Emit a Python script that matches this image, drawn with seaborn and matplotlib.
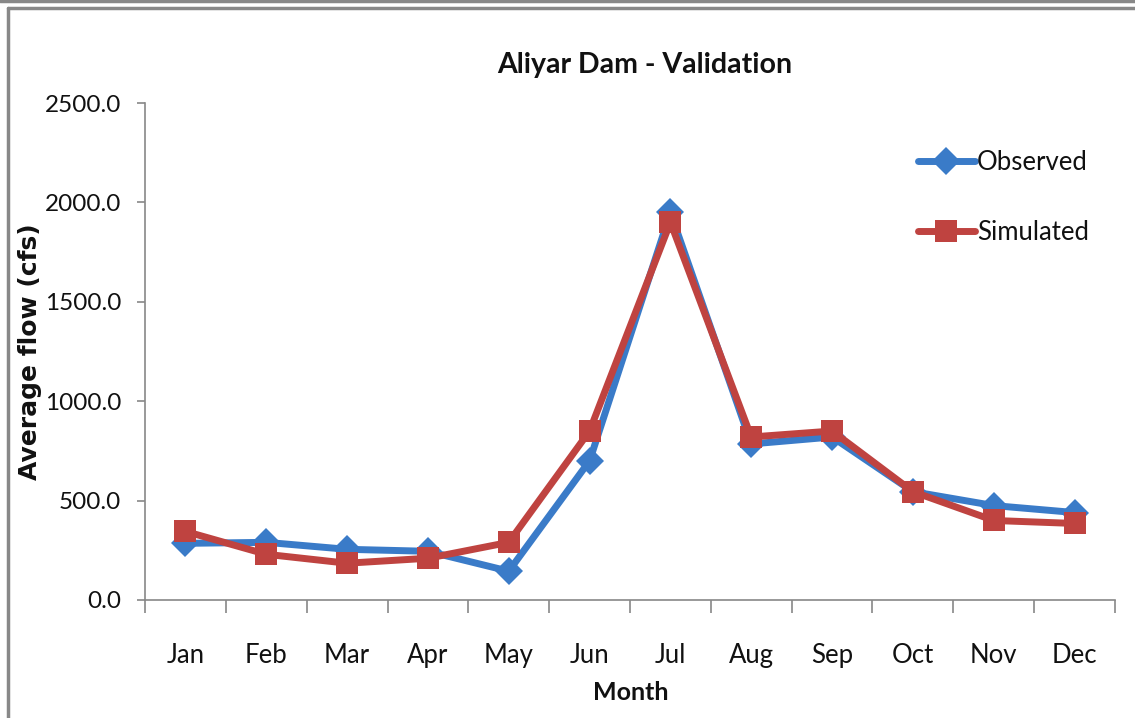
import matplotlib
matplotlib.use("Agg")
import matplotlib.pyplot as plt
from matplotlib.lines import Line2D
import seaborn as sns
import pandas as pd

# data
months = ['Jan', 'Feb', 'Mar', 'Apr', 'May', 'Jun',
          'Jul', 'Aug', 'Sep', 'Oct', 'Nov', 'Dec']
observed = [285, 290, 255, 245, 145, 700, 1950, 785, 820, 545, 475, 440]
simulated = [345, 230, 185, 210, 290, 850, 1900, 820, 850, 545, 400, 385]
series_names = ['Observed', 'Simulated']
y_ticks = [0, 500, 1000, 1500, 2000, 2500]

df = pd.concat([
    pd.DataFrame({'Month': months, 'flow': observed, 'series': 'Observed'}),
    pd.DataFrame({'Month': months, 'flow': simulated, 'series': 'Simulated'}),
], ignore_index=True)

sns.set_style('white')
narrow = ['Lato', 'DejaVu Sans']
plt.rcParams['font.family'] = narrow
plt.rcParams['text.color'] = '#111111'
plt.rcParams['xtick.color'] = '#111111'
plt.rcParams['ytick.color'] = '#111111'

fig = plt.figure(figsize=(11.35, 7.18), dpi=100)
ax = fig.add_axes([145 / 1135, 1 - 600 / 718, 970 / 1135, 497 / 718])

sns.lineplot(data=df, x='Month', y='flow', hue='series', style='series',
             palette={'Observed': '#3A7BC8', 'Simulated': '#BF4340'},
             markers={'Observed': 'D', 'Simulated': 's'}, dashes=False,
             sort=False, linewidth=5, markersize=16, markeredgewidth=0,
             legend=False, ax=ax)
# the diamond a bit narrower than the square, Excel style
for ln in ax.lines[:1]:
    ln.set_markersize(14)

ax.set_ylim(0, 2500)
ax.set_yticks(y_ticks)
ax.set_yticklabels([f'{v:.1f}' for v in y_ticks])
ax.set_xlim(-0.5, len(months) - 0.5)
ax.set_xticks(range(len(months)))
ax.set_xticks([i - 0.5 for i in range(len(months) + 1)], minor=True)
ax.tick_params(axis='x', which='major', length=0, pad=31, labelsize=18.5)
ax.tick_params(axis='x', which='minor', length=9.5, width=1.2, color='#888888',
               direction='out', bottom=True)
ax.tick_params(axis='y', length=6, width=1.2, color='#888888', direction='out',
               left=True, labelsize=17.5, pad=11)

for s in ['top', 'right']:
    ax.spines[s].set_visible(False)
for s in ['left', 'bottom']:
    ax.spines[s].set_color('#888888')
    ax.spines[s].set_linewidth(1.2)

ax.set_xlabel('')
ax.set_ylabel('')
fig.text(631 / 1135, 1 - 693 / 718, 'Month', ha='center', va='center',
         fontsize=18, fontweight='bold', family=narrow)
fig.text(30 / 1135, 1 - 352 / 718, 'Average flow (cfs)', ha='center',
         va='center', rotation=90, fontsize=18, fontweight='bold',
         family=['DejaVu Sans'])
fig.text(645 / 1135, 1 - 65 / 718, 'Aliyar Dam - Validation', ha='center',
         va='center', fontsize=20.5, fontweight='bold', family=narrow)

ax.legend(ax.lines[:2], series_names, loc='upper left',
          bbox_to_anchor=(918 / 1135, 1 - 150 / 718),
          bbox_transform=fig.transFigure, frameon=False, fontsize=18.5,
          handlelength=2.2, handletextpad=0.1, labelspacing=1.75,
          borderaxespad=0, borderpad=0)

# chart frame lines like the pasted Excel chart
fig.add_artist(Line2D([0, 1], [1 - 1 / 718, 1 - 1 / 718], color='#888888',
                      linewidth=2.5, transform=fig.transFigure))
fig.add_artist(Line2D([8 / 1135, 1], [1 - 8 / 718, 1 - 8 / 718],
                      color='#888888', linewidth=2.5,
                      transform=fig.transFigure))
fig.add_artist(Line2D([8 / 1135, 8 / 1135], [0, 1 - 8 / 718],
                      color='#888888', linewidth=2.5,
                      transform=fig.transFigure))

fig.savefig('out.png', dpi=100)
